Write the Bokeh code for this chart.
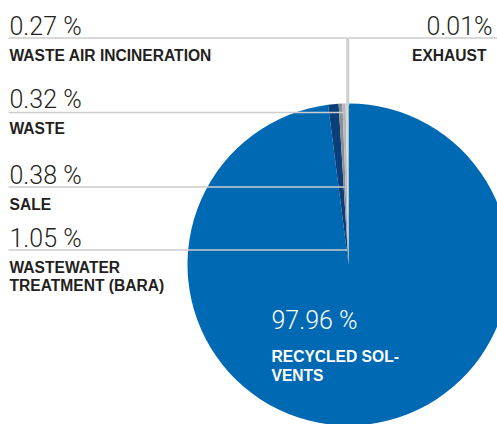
import math
from bokeh.plotting import figure
from bokeh.models import Range1d
from bokeh.core.properties import value
from bokeh.embed import file_html
from bokeh.resources import INLINE

# ---- data ----
categories = ["Recycled solvents", "Wastewater treatment (BARA)", "Sale", "Waste",
              "Waste air incineration", "Exhaust"]
shares = [97.96, 1.05, 0.38, 0.32, 0.27, 0.01]
share_labels = ["97.96 %", "1.05 %", "0.38 %", "0.32 %", "0.27 %", "0.01%"]
label_lines = [["RECYCLED SOL-", "VENTS"], ["WASTEWATER", "TREATMENT (BARA)"], ["SALE"],
               ["WASTE"], ["WASTE AIR INCINERATION"], ["EXHAUST"]]

# ---- styles / layout ----
colors = ["#0069b4", "#0b3f7c", "#8c8f93", "#b6b8bb", "#d8d9db", "#f0883c"]
TEXT = "#231f20"
LEAD = "#cdcdcd"
PCT_FONT = value("Roboto Light")
LBL_FONT = value("Liberation Sans")

W, H = 497, 424
X0, Y0 = 0, 0
CX, CY, R = 348, 264, 161
DY = -4  # text baseline correction

# per slice: (side, pct baseline, leader y, label baseline, anchor x)
layout = {
    1: ("left", 242, 249.5, 271, 9),
    2: ("left", 179, 186.5, 208, 9),
    3: ("left", 103, 112, 132, 9),
    4: ("left", 30, 37.5, 59, 9),
    5: ("right", 30, 37.5, 59, 492),
}

p = figure(width=W, height=H, x_range=Range1d(X0, X0 + W), y_range=Range1d(Y0 + H, Y0),
           output_backend="svg", toolbar_location=None, min_border=0)
p.axis.visible = False
p.grid.visible = False
p.outline_line_color = None
p.background_fill_color = "white"
p.border_fill_color = "white"

total = sum(shares)
starts, ends, mids = [], [], []
cum = 0.0
for s in shares:
    a = cum / total
    b = (cum + s) / total
    starts.append(math.pi / 2 - 2 * math.pi * b)
    ends.append(math.pi / 2 - 2 * math.pi * a)
    mids.append((a + b) / 2)
    cum += s

p.wedge(x=CX, y=CY, radius=R, start_angle=starts, end_angle=ends,
        direction="anticlock", fill_color=colors, line_color=None)

# leader lines
xs, ys = [], []
for i, (side, py, ly, lb, ax) in layout.items():
    th = 2 * math.pi * mids[i]
    if ly > CY - R:
        r = (CY - ly) / math.cos(th)
        xe = CX + r * math.sin(th)
        xs.append([8, xe] if side == "left" else [xe, X0 + W])
        ys.append([ly, ly])
    else:
        xe = CX + R * math.sin(th)
        ye = CY - R * math.cos(th)
        if side == "left":
            xs.append([8, xe, xe]); ys.append([ly, ly, ye + 2])
        else:
            xs.append([X0 + W, xe, xe]); ys.append([ly, ly, ye + 2])
p.multi_line(xs=xs, ys=ys, line_color=LEAD, line_width=1.6)

# labels for the small slices
for i, (side, py, ly, lb, ax) in layout.items():
    align = "left" if side == "left" else "right"
    p.text(x=[ax], y=[py + DY], text=[share_labels[i]], text_font=PCT_FONT, text_font_size="25px",
           text_color=TEXT, text_baseline="alphabetic", text_align=align)
    lx = ax if side == "left" else ax - 6
    for k, line in enumerate(label_lines[i]):
        p.text(x=[lx], y=[lb + 18 * k + DY], text=[line], text_font=LBL_FONT, text_font_size="15.6px",
               text_font_style="bold", text_color=TEXT, text_baseline="alphabetic", text_align=align)

# label for the main slice
p.text(x=[271], y=[324 + DY], text=[share_labels[0]], text_font=PCT_FONT, text_font_size="25px",
       text_color="white", text_baseline="alphabetic")
for k, line in enumerate(label_lines[0]):
    p.text(x=[271], y=[360 + 19 * k + DY], text=[line], text_font=LBL_FONT, text_font_size="15.6px",
           text_font_style="bold", text_color="white", text_baseline="alphabetic")

open("out.html", "w").write(file_html(p, INLINE))
